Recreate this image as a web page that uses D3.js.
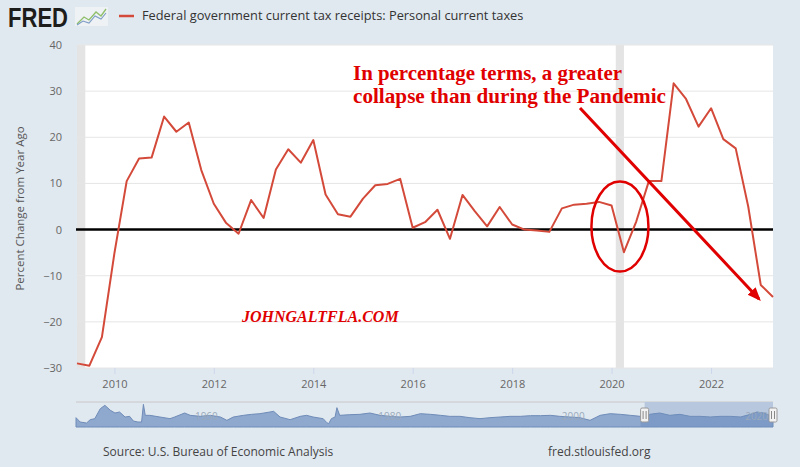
<!DOCTYPE html>
<html>
<head>
<meta charset="utf-8">
<script src="https://cdn.jsdelivr.net/npm/d3@7"></script>
<style>
  body { margin: 0; background: #e1e9f0; }
  svg { display: block; }
</style>
</head>
<body>
<svg id="chart" width="800" height="467"></svg>
<script>
// quarterly observations, percent change from year ago
const quarters = [
  "2009-04-01","2009-07-01","2009-10-01",
  "2010-01-01","2010-04-01","2010-07-01","2010-10-01",
  "2011-01-01","2011-04-01","2011-07-01","2011-10-01",
  "2012-01-01","2012-04-01","2012-07-01","2012-10-01",
  "2013-01-01","2013-04-01","2013-07-01","2013-10-01",
  "2014-01-01","2014-04-01","2014-07-01","2014-10-01",
  "2015-01-01","2015-04-01","2015-07-01","2015-10-01",
  "2016-01-01","2016-04-01","2016-07-01","2016-10-01",
  "2017-01-01","2017-04-01","2017-07-01","2017-10-01",
  "2018-01-01","2018-04-01","2018-07-01","2018-10-01",
  "2019-01-01","2019-04-01","2019-07-01","2019-10-01",
  "2020-01-01","2020-04-01","2020-07-01","2020-10-01",
  "2021-01-01","2021-04-01","2021-07-01","2021-10-01",
  "2022-01-01","2022-04-01","2022-07-01","2022-10-01",
  "2023-01-01","2023-04-01"
];
const pctChange = [
  -29.0, -29.5, -23.3,
  -5.1, 10.5, 15.4, 15.6,
  24.5, 21.2, 23.2, 12.9,
  5.6, 1.4, -0.9, 6.4,
  2.5, 13.0, 17.4, 14.5,
  19.4, 7.6, 3.3, 2.8,
  6.7, 9.6, 9.9, 11.0,
  0.4, 1.6, 4.3, -2.0,
  7.5, 4.0, 0.7, 4.9,
  1.1, 0.0, -0.2, -0.5,
  4.6, 5.4, 5.6, 6.0,
  5.2, -4.9, 1.8, 10.5,
  10.5, 31.7, 28.3, 22.3,
  26.3, 19.6, 17.6, 5.0,
  -12.0, -14.6
];
const yTicks = [-30, -20, -10, 0, 10, 20, 30, 40];
const xTickYears = [2010, 2012, 2014, 2016, 2018, 2020, 2022];
const recessions = [["2009-04-01", "2009-06-01"], ["2020-02-01", "2020-04-01"]];
const pandemicQuarter = "2020-04-01";

// navigator (full history, rough shape)
const navYears = [
  1947.25,1947.7,1948.4,1948.8,1949.3,1949.9,1950.4,1951.0,1951.5,1952.0,1952.6,1953.1,1953.5,1954.0,1954.4,1954.6,1954.8,
  1955.3,1956.4,1957.5,1958.0,1959.1,1959.7,1960.8,1961.9,1963.0,1963.7,1964.4,1965.5,1966.4,1967.3,1968.4,1968.8,1969.5,
  1970.6,1971.7,1972.4,1973.1,1974.2,1974.6,1974.8,1975.1,1975.5,1975.7,1976.0,1977.1,1978.2,1979.3,1980.4,1981.5,1982.6,
  1983.7,1984.8,1985.9,1987.0,1988.0,1989.1,1990.2,1991.3,1992.4,1993.5,1994.6,1995.7,1996.8,1997.9,1999.0,2000.0,2001.1,
  2002.2,2003.3,2004.4,2005.5,2006.6,2007.7,2008.8,2009.1,2009.8,2010.9,2012.0,2013.1,2014.2,2015.3,2016.4,2017.5,2018.6,
  2019.7,2020.8,2021.5,2022.2,2022.9,2023.25
];
const navValues = [
  28,15,12,22,25,55,65,50,42,45,30,32,18,15,15,68,35,
  35,30,25,30,42,35,32,35,30,20,30,35,38,40,45,47,30,
  22,32,35,30,25,13,10,25,30,58,35,37,38,42,35,32,30,
  32,40,38,35,32,32,28,25,28,30,32,32,34,34,35,32,30,
  28,20,35,40,38,35,32,15,38,42,35,38,32,32,30,32,32,
  30,38,45,42,35,32
];
const navLabelYears = [1960, 1980, 2000, 2020];

const svg = d3.select("#chart");
const plot = { left: 77, right: 773, top: 45, bottom: 368 };
const parse = d3.timeParse("%Y-%m-%d");
const data = quarters.map((q, i) => ({ date: parse(q), value: pctChange[i] }));

const x = d3.scaleTime()
  .domain(d3.extent(data, d => d.date))
  .range([plot.left, plot.right]);
const y = d3.scaleLinear()
  .domain([-30, 40])
  .range([plot.bottom, plot.top]);

// header
const header = svg.append("g");
header.append("text")
  .attr("x", 8).attr("y", 27)
  .attr("font-family", "Liberation Sans, Arial, sans-serif")
  .attr("font-weight", 900)
  .attr("font-size", 28)
  .attr("textLength", 60).attr("lengthAdjust", "spacingAndGlyphs")
  .attr("fill", "#1d1d1b")
  .text("FRED");
// little chart icon
const icon = header.append("g").attr("transform", "translate(75,7)");
icon.append("rect").attr("width", 33).attr("height", 19).attr("fill", "#eef2f5");
icon.append("path").attr("d", "M2,17 L9,10 L14,13 L21,5 L26,9 L31,2")
  .attr("fill", "none").attr("stroke", "#8fbf6a").attr("stroke-width", 1.3);
icon.append("path").attr("d", "M2,18 L8,14 L14,16 L20,9 L26,12 L31,6")
  .attr("fill", "none").attr("stroke", "#7d9cc6").attr("stroke-width", 1.1);
header.append("line")
  .attr("x1", 119).attr("x2", 134).attr("y1", 16).attr("y2", 16)
  .attr("stroke", "#d44a3a").attr("stroke-width", 2.5);
header.append("text")
  .attr("x", 142).attr("y", 20)
  .attr("font-family", "Open Sans, sans-serif")
  .attr("font-size", 12.8)
  .attr("fill", "#333")
  .text("Federal government current tax receipts: Personal current taxes");

// plot background
svg.append("rect")
  .attr("x", plot.left).attr("y", plot.top)
  .attr("width", plot.right - plot.left).attr("height", plot.bottom - plot.top)
  .attr("fill", "#fff");

// recession shading
svg.append("g").selectAll("rect")
  .data(recessions)
  .join("rect")
  .attr("x", d => x(parse(d[0])))
  .attr("width", d => x(parse(d[1])) - x(parse(d[0])))
  .attr("y", plot.top).attr("height", plot.bottom - plot.top)
  .attr("fill", "#e4e4e4");

// gridlines
svg.append("g").selectAll("line")
  .data(yTicks)
  .join("line")
  .attr("x1", plot.left).attr("x2", plot.right)
  .attr("y1", d => y(d)).attr("y2", d => y(d))
  .attr("stroke", "#e6e6e6").attr("stroke-width", 1);

// y axis labels
const yAxis = svg.append("g")
  .attr("transform", `translate(${plot.left - 15},0)`)
  .call(d3.axisLeft(y).tickValues(yTicks).tickSize(0).tickPadding(0));
yAxis.select(".domain").remove();
yAxis.selectAll("text")
  .attr("font-family", "Open Sans, sans-serif")
  .attr("font-size", 11).attr("fill", "#666");

svg.append("text")
  .attr("transform", `translate(24,${(plot.top + plot.bottom) / 2 + 2}) rotate(-90)`)
  .attr("text-anchor", "middle")
  .attr("font-family", "Open Sans, sans-serif")
  .attr("font-size", 11.5).attr("fill", "#555")
  .text("Percent Change from Year Ago");

// x axis
const xAxis = svg.append("g")
  .attr("transform", `translate(0,${plot.bottom})`)
  .call(d3.axisBottom(x)
    .tickValues(xTickYears.map(yr => new Date(yr, 0, 1)))
    .tickFormat(d3.timeFormat("%Y"))
    .tickSize(6).tickPadding(6));
xAxis.select(".domain").remove();
xAxis.selectAll("line").attr("stroke", "#ccd6eb");
xAxis.selectAll("text")
  .attr("font-family", "Open Sans, sans-serif")
  .attr("font-size", 11).attr("fill", "#666");

// zero line (drawn over by the annotator)
svg.append("line")
  .attr("x1", plot.left - 1).attr("x2", plot.right)
  .attr("y1", y(0)).attr("y2", y(0))
  .attr("stroke", "#000").attr("stroke-width", 2.5);

// series line
const line = d3.line()
  .x(d => x(d.date))
  .y(d => y(d.value));
svg.append("path")
  .datum(data)
  .attr("d", line)
  .attr("fill", "none")
  .attr("stroke", "#d44a3a")
  .attr("stroke-width", 2)
  .attr("stroke-linejoin", "round");

// annotations
const red = "#e00000";
const note = svg.append("text")
  .attr("font-family", "Liberation Serif, DejaVu Serif, serif")
  .attr("font-weight", "bold")
  .attr("font-size", 20)
  .attr("fill", red);
note.append("tspan").attr("x", 353).attr("y", 80)
  .attr("textLength", 269).attr("lengthAdjust", "spacingAndGlyphs")
  .text("In percentage terms, a greater");
note.append("tspan").attr("x", 353).attr("y", 103)
  .attr("textLength", 313).attr("lengthAdjust", "spacingAndGlyphs")
  .text("collapse than during the Pandemic");

svg.append("text")
  .attr("x", 242).attr("y", 322)
  .attr("font-family", "Liberation Serif, DejaVu Serif, serif")
  .attr("font-weight", "bold").attr("font-style", "italic")
  .attr("font-size", 16)
  .attr("fill", red)
  .text("JOHNGALTFLA.COM");

// circle round the pandemic dip
const dip = data[quarters.indexOf(pandemicQuarter)];
svg.append("ellipse")
  .attr("cx", x(dip.date) - 4).attr("cy", y(0) - 3)
  .attr("rx", 28.5).attr("ry", 45)
  .attr("fill", "none").attr("stroke", red).attr("stroke-width", 2.5);

// arrow pointing at the latest reading
const last = data[data.length - 1];
svg.append("defs").append("marker")
  .attr("id", "head")
  .attr("viewBox", "0 0 10 10")
  .attr("refX", 8).attr("refY", 5)
  .attr("markerWidth", 4.5).attr("markerHeight", 4.5)
  .attr("orient", "auto")
  .append("path").attr("d", "M0,1 L10,5 L0,9 z").attr("fill", red);
svg.append("line")
  .attr("x1", 580).attr("y1", 108)
  .attr("x2", x(last.date) - 14).attr("y2", y(last.value) + 2)
  .attr("stroke", red).attr("stroke-width", 3)
  .attr("marker-end", "url(#head)");

// navigator
const nav = { top: 402, bottom: 427 };
const nx = d3.scaleLinear().domain(d3.extent(navYears)).range([76, plot.right]);
const ny = d3.scaleLinear().domain([0, 75]).range([nav.bottom, nav.top]);
const navData = navYears.map((yr, i) => ({ yr, v: navValues[i] }));
const selStart = 2009.25;

svg.append("line")
  .attr("x1", 76).attr("x2", plot.right)
  .attr("y1", nav.top).attr("y2", nav.top)
  .attr("stroke", "#c8c8c8");
svg.append("rect")
  .attr("x", nx(selStart)).attr("y", nav.top)
  .attr("width", plot.right - nx(selStart)).attr("height", nav.bottom - nav.top)
  .attr("fill", "#b7c7de");
const navArea = d3.area()
  .x(d => nx(d.yr))
  .y0(nav.bottom)
  .y1(d => ny(d.v));
svg.append("path")
  .datum(navData)
  .attr("d", navArea)
  .attr("fill", "#8ea8ce")
  .attr("stroke", "#6f8cb8")
  .attr("stroke-width", 1);
svg.append("path")
  .datum(navData.filter(d => d.yr >= selStart - 0.5))
  .attr("d", navArea)
  .attr("fill", "#6f8fbf")
  .attr("opacity", 0.55);
svg.append("g").selectAll("text")
  .data(navLabelYears)
  .join("text")
  .attr("x", d => nx(d) + 2).attr("y", 420)
  .attr("font-family", "Open Sans, sans-serif")
  .attr("font-size", 10).attr("fill", "#9aa9bb")
  .text(d => d);
const handles = svg.append("g").selectAll("g")
  .data([selStart, 2023.25])
  .join("g")
  .attr("transform", d => `translate(${nx(d)},${nav.top + 6})`);
handles.append("rect")
  .attr("x", -4).attr("width", 8).attr("height", 14).attr("rx", 1.5)
  .attr("fill", "#f2f2f2").attr("stroke", "#999");
handles.append("path")
  .attr("d", "M-1.5,3 V11 M1.5,3 V11")
  .attr("stroke", "#888").attr("stroke-width", 1);

// footer
svg.append("text")
  .attr("x", 103).attr("y", 456)
  .attr("font-family", "Open Sans, sans-serif")
  .attr("font-size", 12).attr("fill", "#444")
  .text("Source: U.S. Bureau of Economic Analysis");
svg.append("text")
  .attr("x", 548).attr("y", 456)
  .attr("font-family", "Open Sans, sans-serif")
  .attr("font-size", 12).attr("fill", "#444")
  .text("fred.stlouisfed.org");
</script>
</body>
</html>
